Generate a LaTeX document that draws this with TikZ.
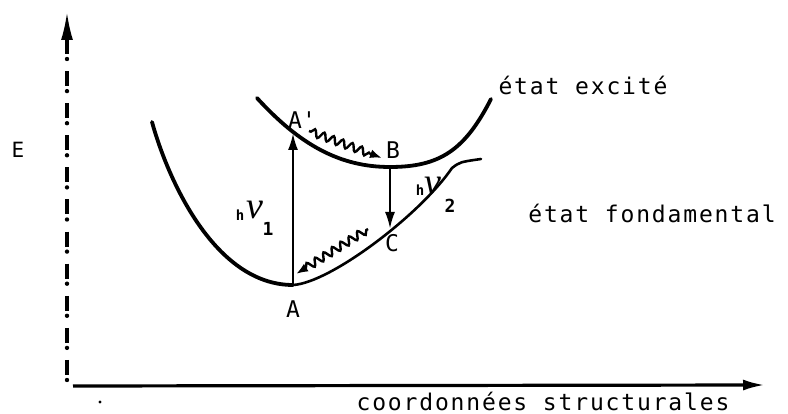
\documentclass[tikz,border=0pt]{standalone}
\usepackage{fontspec}
\newfontfamily\tw{DejaVu Sans Mono}[LetterSpace=8]
\newfontfamily\twr{DejaVu Sans Mono}
\newfontfamily\twb{DejaVu Sans Mono Bold}
\newfontfamily\grk{Liberation Serif}
\usetikzlibrary{arrows.meta,decorations.pathmorphing}
\begin{document}
\begin{tikzpicture}[x=1pt,y=-1pt,
  curve/.style={line width=3.8pt,line cap=round,line join=round},
  thincurve/.style={line width=2.6pt,line cap=round,line join=round},
  lbl/.style={font=\tw\fontsize{23}{23}\selectfont, inner sep=0pt},
  ptlbl/.style={font=\twr\fontsize{23}{23}\selectfont, inner sep=0pt},
  trans/.style={line width=2.4pt,-{Latex[length=17pt,width=10pt]}},
  wavy/.style={line width=2.4pt, decorate,
    decoration={snake,segment length=10pt,amplitude=3.8pt,pre length=2pt,post length=10pt},
    -{Latex[length=12pt,width=9pt]}},
  axis/.style={line width=3.2pt},
  hpart/.style={inner sep=0pt,font=\twb\fontsize{14}{14}\selectfont},
  nupart/.style={inner sep=0pt,font=\grk\itshape\fontsize{38}{38}\selectfont},
  subpart/.style={inner sep=0pt,font=\twb\fontsize{18}{18}\selectfont}]
\useasboundingbox (0,0) rectangle (788,414);
% vertical axis made of exclamation marks
\coordinate (vhead) at (67,44);
\coordinate (vtop) at (67,12);
\draw[line width=2.6pt,-{Latex[length=28pt,width=12pt]}] (vhead) -- (vtop);
\foreach \i in {0,...,10}{
  \draw[line width=3.2pt] (67,{59+32.1*\i-20}) -- (67,{59+32.1*\i-5});
  \fill (67,{59+32.1*\i}) circle (2.2pt);
}
% horizontal axis
\coordinate (hstart) at (73,386);
\coordinate (hend) at (765,385);
\draw[axis,-{Latex[length=22pt,width=11pt]}] (hstart) -- (hend);
\fill (100,402) circle (1.7pt);
% points
\coordinate (A) at (293,285);
\coordinate (Ap) at (293,133);
\coordinate (B) at (390,167);
\coordinate (C) at (390,229);
% ground state curve
\draw[curve] (152,122) .. controls (168,180) and (215,285) .. (A);
\draw[thincurve] (A) .. controls (330,283) and (420,215) .. (452,168)
   .. controls (460,162) .. (481,159);
% excited state curve
\draw[curve] (257,98) .. controls (300,145) and (340,167) .. (B)
   .. controls (440,167) and (465,150) .. (491,99);
% transitions
\draw[trans] (A) -- (Ap);
\draw[trans] (B) -- (C);
\coordinate (w1s) at (309,131);
\coordinate (w1e) at (382,158);
\coordinate (w2s) at (368,229);
\coordinate (w2e) at (296,274);
\draw[wavy] (w1s) -- (w1e);
\draw[wavy] (w2s) -- (w2e);
% labels
\node[ptlbl] (lAp) at (302,120) {A'};
\node[ptlbl] (lB) at (393,150) {B};
\node[ptlbl] (lC) at (392,243) {C};
\node[ptlbl] (lA) at (293,309) {A};
\node[ptlbl,font=\twr\fontsize{21}{21}\selectfont] (lE) at (18,150) {E};
\node[lbl] (ex) at (583,85) {état excité};
\node[lbl] (fo) at (652,213) {état fondamental};
\node[lbl,anchor=base] (co) at (543,410) {coordonnées structurales};
% h nu labels
\node[hpart] (h1) at (240,215) {h};
\node[nupart] (nu1) at (255,210) {ν};
\node[subpart] (s1) at (268,229) {1};
\node[hpart] (h2) at (420,190) {h};
\node[nupart] (nu2) at (433,186) {ν};
\node[subpart] (s2) at (450,206) {2};
\end{tikzpicture}
\end{document}
